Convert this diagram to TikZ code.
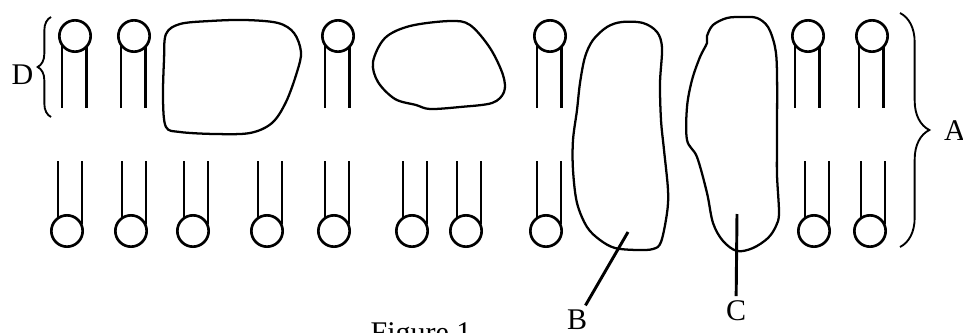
\documentclass[tikz,border=0pt]{standalone}
\usepackage{fontspec}
\setmainfont{Liberation Serif}
\usepackage{pgf,tikz}
\usetikzlibrary{decorations.pathreplacing}

\begin{document}
\begin{tikzpicture}[x=0.75pt,y=-0.75pt,
  font=\fontsize{22.5}{27}\selectfont,
  head/.style={circle,draw,line width=2pt,minimum size=23.5pt,inner sep=0pt},
  tail/.style={line width=2.2pt},
  protein/.style={line width=1.7pt,line join=round},
  leader/.style={line width=2.2pt},
  curly/.style={line width=1.4pt,decorate,decoration={brace,amplitude=#1}}]

\useasboundingbox (0,0) rectangle (963,332);

% upper layer, heads on top
\foreach \x [count=\i] in {75,134,338,550,808,872}
  \node[head] (t\i) at (\x,36) {};
\foreach \i in {1,...,6} {
  \draw[tail] ([shift={(-13,9)}]t\i.center) -- ++(0,63);
  \draw[tail] ([shift={(11.5,11)}]t\i.center) -- ++(0,61);
}

% lower layer, heads at the bottom
\foreach \x [count=\i] in {67,131,193,267,334,412,466,546,814,870}
  \node[head] (b\i) at (\x,231) {};
\foreach \i in {1,...,10} {
  \draw[tail] ([shift={(-9,-12)}]b\i.center) -- ++(0,-58);
  \draw[tail] ([shift={(15,-7)}]b\i.center) -- ++(0,-63);
}

% proteins
\draw[protein] plot[smooth cycle,tension=0.55] coordinates {(164,60) (166,34) (180,24) (210,21) (245,20) (278,23) (294,33) (301,52) (297,72) (286,102) (272,123) (250,133) (215,134) (180,132) (166,127) (163,100)};
\draw[protein] plot[smooth cycle,tension=0.55] coordinates {(373,62) (385,38) (410,26) (450,21) (470,25) (490,48) (503,75) (504,92) (492,103) (460,107) (430,109) (416,105) (395,99) (378,82)};
\draw[protein] plot[smooth cycle,tension=0.55] coordinates {(573,140) (577,110) (580,83) (585,57) (593,40) (607,27) (622,22) (643,23) (657,32) (662,48) (660,83) (661,120) (664,150) (668,190) (667,213) (661,242) (653,249) (637,250) (615,248) (600,240) (587,227) (577,203) (573,170)};
\draw[protein] plot[smooth cycle,tension=0.55] coordinates {(687,140) (687,107) (692,80) (700,57) (707,43) (707,36) (713,25) (727,18) (743,17) (757,18) (768,27) (775,47) (777,73) (777,140) (777,175) (779,213) (776,226) (768,238) (753,248) (737,251) (723,241) (713,223) (707,193) (697,157)};

% labels
\coordinate (pB) at (628,232);
\coordinate (pC) at (737,214);
\node (B) at (577,320) {B};
\node (C) at (736,311) {C};
\draw[leader] (pB) -- (B);
\draw[leader] (pC) -- (C);

\coordinate (d1) at (51,117);
\coordinate (d2) at (51,17);
\draw[curly=10pt] (d1) -- (d2);
\node (D) at (22.5,75) {D};

\coordinate (a1) at (900,13);
\coordinate (a2) at (900,247);
\draw[curly=22pt] (a1) -- (a2);
\node (A) at (955,131) {A};

\node[anchor=base] (fig) at (421,342) {Figure 1};
\end{tikzpicture}
\end{document}
